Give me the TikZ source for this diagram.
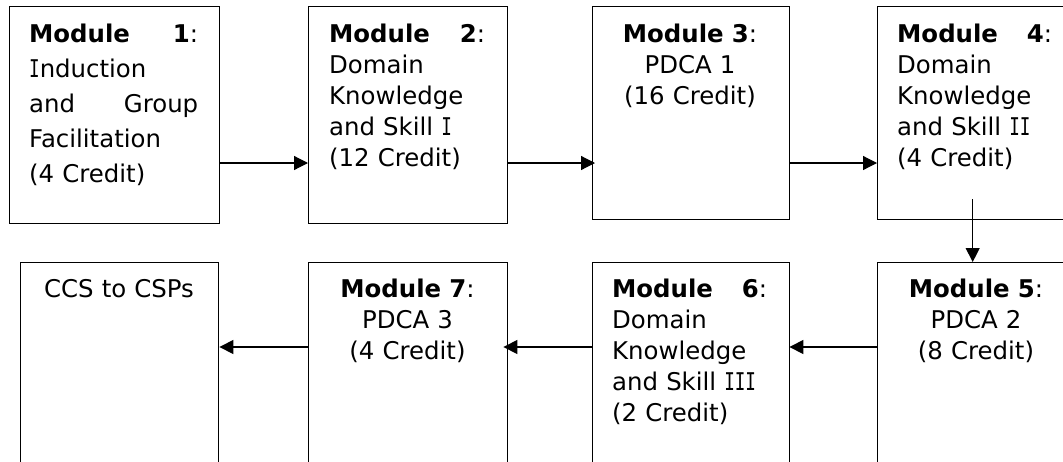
\documentclass[tikz,border=0pt]{standalone}
\usepackage{fontspec}
\usepackage{graphicx}
\setmainfont{DejaVu Sans}
\newfontfamily\monoI{DejaVu Sans Mono}
\usetikzlibrary{arrows.meta}

% capital I with slab serifs
\newcommand{\sI}{\scalebox{0.72}[1]{\monoI I}}
% a line spread over the full text width
\newcommand{\spreadline}[2]{\leavevmode\hbox to\hsize{#1\hfill#2}}

\tikzset{
  modbox/.style={draw, line width=1.4pt, rectangle, inner sep=0pt, anchor=north west},
  modtext/.style={inner sep=0pt, font=\fontsize{24.4}{31}\selectfont},
  arr/.style={line width=1.2pt, -{Triangle[length=14pt,width=14pt]}}
}

\begin{document}
\begin{tikzpicture}[x=1pt,y=-1pt]
\useasboundingbox (0,0) rectangle (1063,461);
\clip (0,0) rectangle (1063,461);
\fill[white] (0,0) rectangle (1063,461);

% top row
\node[modbox, minimum width=210pt, minimum height=217pt] (b1) at (9,6) {};
\node[modbox, minimum width=199pt, minimum height=217pt] (b2) at (308,6) {};
\node[modbox, minimum width=197pt, minimum height=213pt] (b3) at (592,6) {};
\node[modbox, minimum width=199pt, minimum height=213pt] (b4) at (877,6) {};
% bottom row
\node[modbox, minimum width=199pt, minimum height=250pt] (b5) at (877,262) {};
\node[modbox, minimum width=197pt, minimum height=250pt] (b6) at (592,262) {};
\node[modbox, minimum width=199pt, minimum height=250pt] (b7) at (308,262) {};
\node[modbox, minimum width=198pt, minimum height=250pt] (b8) at (20,262) {};

% texts
\node[modtext, anchor=north west, text width=169pt, align=left,
      font=\fontsize{24.4}{35}\selectfont] (t1) at (29,23.5)
  {\spreadline{\textbf{Module}}{\textbf{1}:}\\
   \sI nduction\\
   \spreadline{and}{Group}\\
   Facilitation\\
   (4 Credit)};
\node[modtext, anchor=north west, text width=156pt, align=left] (t2) at (329,23.5)
  {\spreadline{\textbf{Module}}{\textbf{2}:}\\
   Domain\\
   Knowledge\\
   and Skill \sI\\
   (12 Credit)};
\node[modtext, anchor=north, text width=190pt, align=center] (t3) at (690,23.5)
  {\textbf{Module 3}:\\
   PDCA 1\\
   (16 Credit)};
\node[modtext, anchor=north west, text width=155pt, align=left] (t4) at (897,23.5)
  {\spreadline{\textbf{Module}}{\textbf{4}:}\\
   Domain\\
   Knowledge\\
   and Skill \sI\sI\\
   (4 Credit)};
\node[modtext, anchor=north, text width=190pt, align=center] (t5) at (976,278.5)
  {\textbf{Module 5}:\\
   PDCA 2\\
   (8 Credit)};
\node[modtext, anchor=north west, text width=155pt, align=left] (t6) at (612,278.5)
  {\spreadline{\textbf{Module}}{\textbf{6}:}\\
   Domain\\
   Knowledge\\
   and Skill \sI\sI\sI\\
   (2 Credit)};
\node[modtext, anchor=north, text width=190pt, align=center] (t7) at (407.5,278.5)
  {\textbf{Module 7}:\\
   PDCA 3\\
   (4 Credit)};
\node[modtext, anchor=north, text width=190pt, align=center] (t8) at (119,279.2)
  {CCS to CSPs};

% connector rows
\coordinate (rowT) at (0,163);
\coordinate (rowB) at (0,347);

\draw[arr] (b1.east |- rowT) -- (b2.west |- rowT);
\draw[arr] (b2.east |- rowT) -- ([xshift=3pt]b3.west |- rowT);
\draw[arr] (b3.east |- rowT) -- (b4.west |- rowT);
\draw[arr] ([xshift=-4.5pt,yshift=21pt]b4.south) -- ([xshift=-4.5pt]b5.north);
\draw[arr] (b5.west |- rowB) -- ([xshift=-1pt]b6.east |- rowB);
\draw[arr] (b6.west |- rowB) -- ([xshift=-5pt]b7.east |- rowB);
\draw[arr] (b7.west |- rowB) -- (b8.east |- rowB);
\end{tikzpicture}
\end{document}
